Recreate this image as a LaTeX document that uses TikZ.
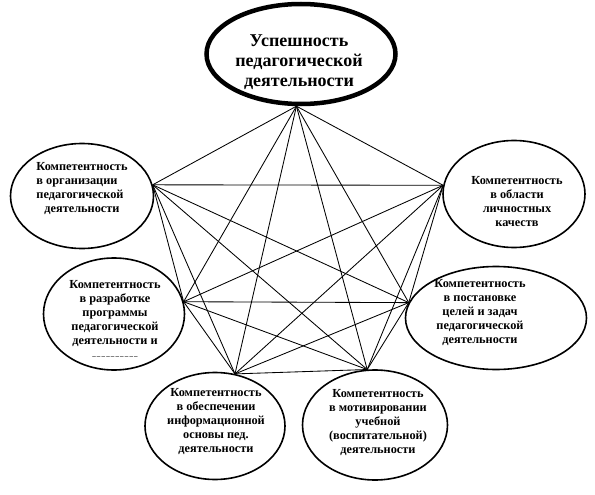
\documentclass[tikz,border=0pt]{standalone}
\usepackage{fontspec}
\setmainfont{Liberation Serif}
\newfontfamily\lserif{Liberation Serif}
\usetikzlibrary{shapes.geometric}
\begin{document}
\begin{tikzpicture}[x=1pt,y=-1pt,
  ell/.style={draw, ellipse, line width=1.6pt, inner sep=0pt},
  txt/.style={font=\lserif\bfseries\fontsize{12.3}{14}\selectfont, align=center, inner sep=0pt},
  conn/.style={line width=0.85pt}]
\useasboundingbox (0,0) rectangle (595,495);
% ellipses
\node[ell, line width=4.5pt, minimum width=189pt, minimum height=100pt] (top) at (301,54) {};
\node[ell, minimum width=143pt, minimum height=105pt] (org) at (82,196) {};
\node[ell, minimum width=142pt, minimum height=107pt] (pers) at (514,194) {};
\node[ell, minimum width=141pt, minimum height=112pt] (dev) at (114,314) {};
\node[ell, minimum width=181pt, minimum height=103pt] (goal) at (496,318) {};
\node[ell, minimum width=140pt, minimum height=107pt] (info) at (215,426) {};
\node[ell, minimum width=145pt, minimum height=110pt] (motiv) at (375,425) {};
% texts
\node[txt, font=\lserif\bfseries\fontsize{18}{20}\selectfont] (topT) at (299,62) {Успешность\\педагогической\\деятельности};
\node[txt, align=left] (orgT) at (82,189) {Компетентность\\в организации\\педагогической\\\hspace{8pt}деятельности};
\node[txt] (persT) at (517,202) {Компетентность\\в области\\личностных\\качеств};
\node[txt] (devT) at (115,319) {Компетентность\\в разработке\\программы\\педагогической\\деятельности и\\{\fontsize{7}{7}\selectfont \textendash\,\textendash\,\textendash\,\textendash\,\textendash\,\textendash\,\textendash\,\textendash\,\textendash\,\textendash}};
\node[txt] (goalT) at (480,313) {Компетентность\\в постановке\\целей и задач\\педагогической\\деятельности};
\node[txt] (infoT) at (216,422) {Компетентность\\в обеспечении\\информационной\\основы пед.\\деятельности};
\node[txt] (motivT) at (378,423) {Компетентность\\в мотивировании\\учебной\\(воспитательной)\\деятельности};
% anchor points
\coordinate (T) at (top.-95);
\coordinate (O) at (org.9);
\coordinate (P) at (pers.173);
\coordinate (D) at (dev.10);
\coordinate (G) at (goal.170);
\coordinate (I) at (info.69);
\coordinate (M) at (motiv.98);
% connectors (complete graph)
\foreach \a/\b in {T/O,T/P,T/D,T/G,T/I,T/M,O/P,O/D,O/G,O/I,O/M,P/D,P/G,P/I,P/M,D/G,D/I,D/M,G/I,G/M,I/M}
  \draw[conn] (\a) -- (\b);
\end{tikzpicture}
\end{document}
